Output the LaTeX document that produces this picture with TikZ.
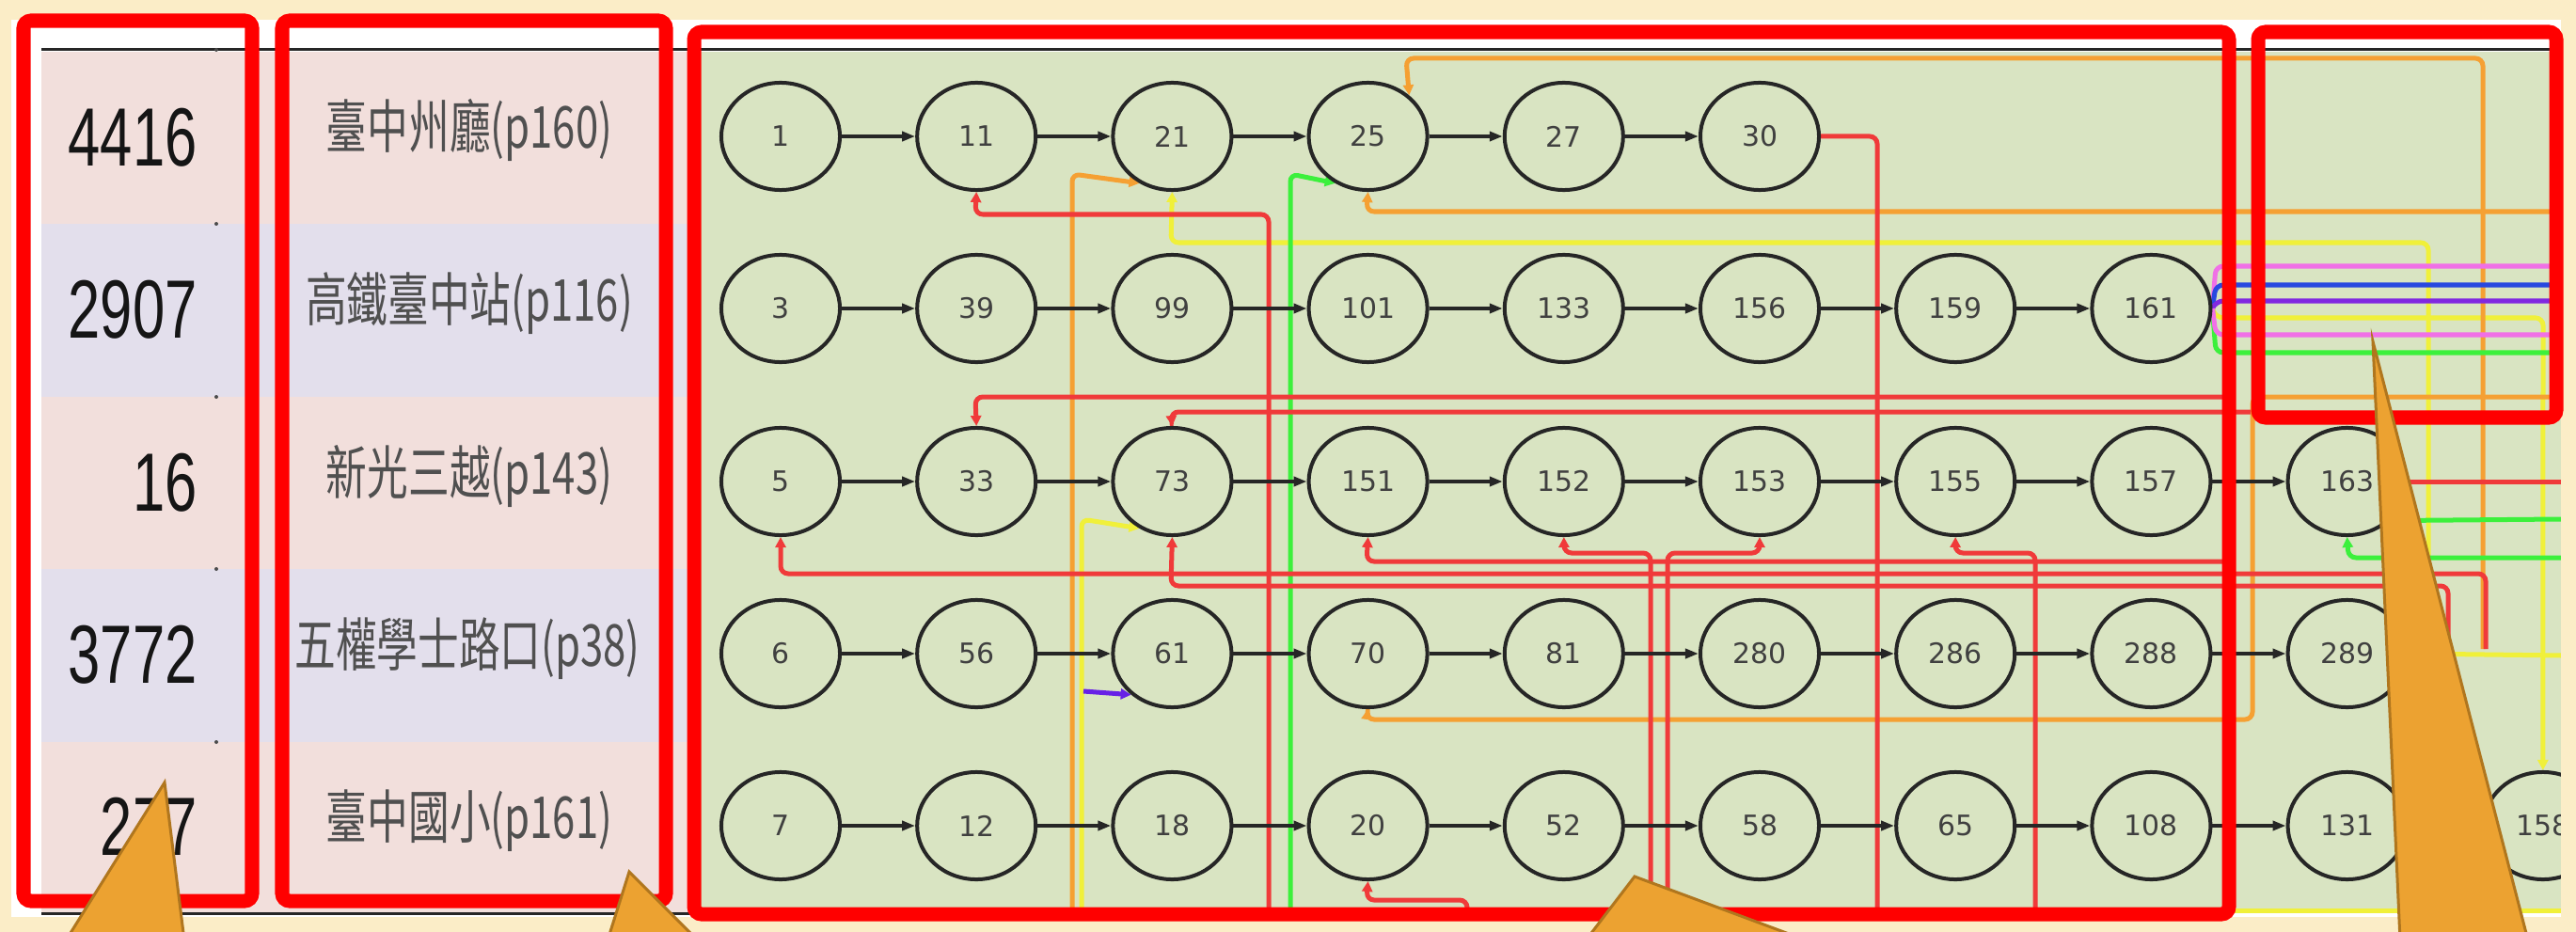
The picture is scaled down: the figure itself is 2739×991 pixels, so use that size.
\documentclass[tikz,border=0pt]{standalone}
\usepackage{fontspec}
\setmainfont{DejaVu Sans}
\newfontfamily\cjkfont{Noto Sans CJK TC}
\newfontfamily\numfont{Liberation Sans}
\usetikzlibrary{shapes.geometric,arrows.meta}
\pgfdeclarelayer{bg}
\pgfdeclarelayer{wires}
\pgfdeclarelayer{top}
\pgfsetlayers{bg,wires,main,top}
\definecolor{bgbeige}{HTML}{FBEDC7}
\definecolor{rowpink}{HTML}{F2DFDC}
\definecolor{rowlav}{HTML}{E3DFEC}
\definecolor{graphgreen}{HTML}{D9E4C2}
\definecolor{lred}{HTML}{F03A3A}
\definecolor{lorange}{HTML}{F5A033}
\definecolor{lyellow}{HTML}{F0F03A}
\definecolor{lgreen}{HTML}{3CF03C}
\definecolor{lblue}{HTML}{2848E0}
\definecolor{lpurple}{HTML}{8028E0}
\definecolor{lmagenta}{HTML}{F070E6}
\definecolor{calloutfill}{HTML}{ECA231}
\definecolor{calloutedge}{HTML}{B0761E}
\definecolor{numcol}{HTML}{151515}
\definecolor{namecol}{HTML}{505050}
\begin{document}
\begin{tikzpicture}[x=0.01cm,y=-0.01cm,
  nd/.style={ellipse, draw=black!85, line width=0.04cm, fill=graphgreen,
    minimum width=1.26cm, minimum height=1.14cm, inner sep=0pt,
    font=\fontsize{8.5}{8.5}\selectfont, text=black!75},
  seqarr/.style={-{Triangle[length=0.14cm,width=0.1cm]}, line width=0.04cm, black!85},
  wire/.style={line width=0.05cm, rounded corners=0.08cm},
  warr/.style={wire, -{Triangle[length=0.11cm,width=0.11cm]}},
  redbox/.style={draw=red, line width=0.15cm, rounded corners=0.08cm},
  calltri/.style={fill=calloutfill, draw=calloutedge, line width=0.03cm},
  numlab/.style={anchor=base east, text=numcol, font=\numfont\fontsize{25}{25}\selectfont},
  namelab/.style={anchor=base, text=namecol, font=\cjkfont\fontsize{17.5}{17.5}\selectfont}]
\useasboundingbox (0,0) rectangle (2739,991);

\begin{pgfonlayer}{bg}
\fill[bgbeige] (0,0) rectangle (2739,991);
\fill[white] (12,21) rectangle (2723,975);
\fill[rowpink] (44,55) rectangle (745,238);
\fill[rowlav] (44,238) rectangle (745,422);
\fill[rowpink] (44,422) rectangle (745,605);
\fill[rowlav] (44,605) rectangle (745,789);
\fill[rowpink] (44,789) rectangle (745,970);
\fill[graphgreen] (745,55) rectangle (2723,970);
\draw[line width=0.03cm, black!85] (44,53) -- (2723,53);
\draw[line width=0.03cm, black!85] (44,971) -- (745,971);
\foreach \yy in {53,238,422,605,789} \fill[black!70] (230,\yy) circle (2);
\end{pgfonlayer}

% nodes
\foreach \lab [count=\i from 0] in {1,11,21,25,27,30}
  \node[nd] (n1-\i) at ({830+208.2*\i},145) {\lab};
\foreach \lab [count=\i from 0] in {3,39,99,101,133,156,159,161}
  \node[nd] (n2-\i) at ({830+208.2*\i},328) {\lab};
\foreach \lab [count=\i from 0] in {5,33,73,151,152,153,155,157,163}
  \node[nd] (n3-\i) at ({830+208.2*\i},512) {\lab};
\foreach \lab [count=\i from 0] in {6,56,61,70,81,280,286,288,289}
  \node[nd] (n4-\i) at ({830+208.2*\i},695) {\lab};
\foreach \lab [count=\i from 0] in {7,12,18,20,52,58,65,108,131,158}
  \node[nd] (n5-\i) at ({830+208.2*\i},878) {\lab};

\foreach \r/\last in {1/4,2/6,3/7,4/7,5/8}{
  \foreach \i in {0,...,\last}{
    \pgfmathtruncatemacro\j{\i+1}
    \draw[seqarr] (n\r-\i) -- (n\r-\j);
  }
}

% free ends
\coordinate (o1) at (2640,690);
\coordinate (o2) at (2723,225);
\coordinate (o3) at (1140,975);
\coordinate (o4) at (2723,422);
\coordinate (y1) at (2582,697);
\coordinate (y1b) at (2723,697);
\coordinate (y2) at (1150,975);
\coordinate (y4a) at (745,968);
\coordinate (y4b) at (2723,968);
\coordinate (g1) at (1372,975);
\coordinate (g2) at (2723,375);
\coordinate (g3) at (2723,552);
\coordinate (g4) at (2723,593);
\coordinate (r1e) at (1996,975);
\coordinate (r2s) at (1349,975);
\coordinate (r3s) at (2370,422);
\coordinate (r4s) at (2393,438);
\coordinate (r5s) at (2643,690);
\coordinate (r6s) at (2603,680);
\coordinate (r7s) at (2370,597);
\coordinate (r8s) at (1755,975);
\coordinate (r9s) at (1773,975);
\coordinate (r10s) at (2164,975);
\coordinate (r11s) at (1560,975);
\coordinate (r12e) at (2723,512);
\coordinate (m1e) at (2723,283);
\coordinate (b1e) at (2723,303);
\coordinate (p1e) at (2723,320);
\coordinate (m2e) at (2723,356);
\coordinate (pa) at (1152,735);

\begin{pgfonlayer}{wires}
% yellow
\draw[wire,lyellow] (y4a) -- (y4b);
\draw[warr,lyellow] (y1) -- (2582,258) -- (1245,258) -- (n1-2.south);
\draw[wire,lyellow] (n4-8.east) -- (y1b);
\draw[warr,lyellow] (y2) -- (1150,552) -- (n3-2.235);
\draw[warr,lyellow] (n2-7.east) -- (2356,338) -- (2704,338) -- (n5-9.north);
% orange
\draw[warr,lorange] (o1) -- (2640,62) -- (1495,62) -- (n1-3.45);
\draw[warr,lorange] (o2) -- (1453,225) -- (n1-3.south);
\draw[warr,lorange] (o3) -- (1140,185) -- (n1-2.235);
\draw[warr,lorange] (o4) -- (2395,422) -- (2395,765) -- (1453,765) -- (n4-3.south);
% green
\draw[warr,lgreen] (g1) -- (1372,185) -- (n1-3.235);
\draw[wire,lgreen] (n2-7.east) -- (2356,375) -- (g2);
\draw[wire,lgreen] (n3-8.-42) -- (g3);
\draw[warr,lgreen] (g4) -- (2497,593) -- (n3-8.south);
% red
\draw[wire,lred] (n1-5.east) -- (1996,145) -- (r1e);
\draw[warr,lred] (r2s) -- (1349,228) -- (1037,228) -- (n1-1.south);
\draw[warr,lred] (r3s) -- (1037,422) -- (n3-1.north);
\draw[warr,lred] (r4s) -- (1245,438) -- (n3-2.north);
\draw[warr,lred] (r5s) -- (2643,610) -- (830,610) -- (n3-0.south);
\draw[warr,lred] (r6s) -- (2603,623) -- (1245,623) -- (n3-2.south);
\draw[warr,lred] (r7s) -- (1453,597) -- (n3-3.south);
\draw[warr,lred] (r8s) -- (1755,588) -- (1663,588) -- (n3-4.south);
\draw[warr,lred] (r9s) -- (1773,588) -- (1871,588) -- (n3-5.south);
\draw[warr,lred] (r10s) -- (2164,588) -- (2079,588) -- (n3-6.south);
\draw[warr,lred] (r11s) -- (1560,957) -- (1453,957) -- (n5-3.south);
\draw[wire,lred] (n3-8.east) -- (r12e);
% bundle from 161
\draw[wire,lmagenta] (n2-7.east) -- (2356,283) -- (m1e);
\draw[wire,lblue] (n2-7.east) -- (2356,303) -- (b1e);
\draw[wire,lpurple] (n2-7.east) -- (2356,320) -- (p1e);
\draw[wire,lmagenta] (n2-7.east) -- (2356,356) -- (m2e);
% purple short arrow
\draw[warr,lpurple!80!blue] (pa) -- (n4-2.225);
\end{pgfonlayer}

\begin{pgfonlayer}{top}
% left table texts
\node[numlab] (v1) at (222,176) {\scalebox{0.7}[1]{4416}};
\node[numlab] (v2) at (222,359) {\scalebox{0.7}[1]{2907}};
\node[numlab] (v3) at (222,543) {\scalebox{0.7}[1]{16}};
\node[numlab] (v4) at (222,726) {\scalebox{0.7}[1]{3772}};
\node[numlab] (v5) at (222,909) {\scalebox{0.7}[1]{277}};
\node[namelab] (s1) at (499,158) {\scalebox{0.71}[1]{臺中州廳(p160)}};
\node[namelab] (s2) at (499,341) {\scalebox{0.71}[1]{高鐵臺中站(p116)}};
\node[namelab] (s3) at (499,525) {\scalebox{0.71}[1]{新光三越(p143)}};
\node[namelab] (s4) at (497,708) {\scalebox{0.71}[1]{五權學士路口(p38)}};
\node[namelab] (s5) at (499,891) {\scalebox{0.71}[1]{臺中國小(p161)}};
% right margin cover
\fill[bgbeige] (2723,0) rectangle (2739,991);
% highlight boxes
\draw[redbox] (25,22) rectangle (268,958);
\draw[redbox] (300,22) rectangle (708,958);
\draw[redbox] (738,34) rectangle (2370,972);
\draw[redbox] (2401,34) rectangle (2718,444);
% callout pointers
\filldraw[calltri] (70,1000) -- (175,832) -- (196,1000) -- cycle;
\filldraw[calltri] (646,1000) -- (669,927) -- (742,1000) -- cycle;
\filldraw[calltri] (1686,1000) -- (1738,932) -- (1921,1000) -- cycle;
\filldraw[calltri] (2552,1000) -- (2523,363) -- (2688,1000) -- cycle;
\end{pgfonlayer}
\end{tikzpicture}
\end{document}
